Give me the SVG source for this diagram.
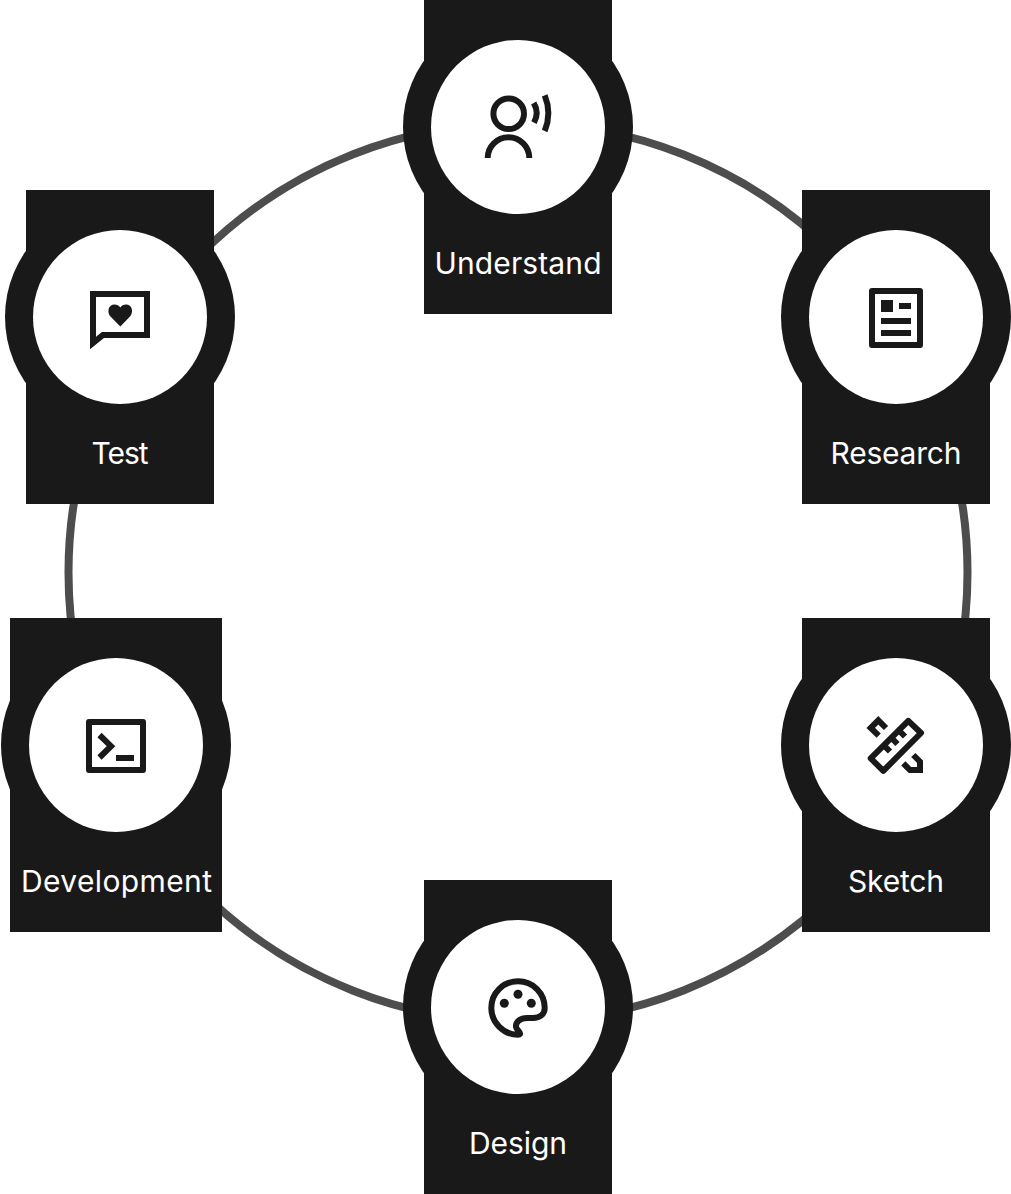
<svg xmlns="http://www.w3.org/2000/svg" width="1011" height="1194" viewBox="0 0 1011 1194">
<style>
.box{fill:#191919}
.halo{fill:#191919}
.disc{fill:#fff}
.label{fill:#fff;font-family:"Inter","Liberation Sans",sans-serif;font-size:30px;text-anchor:middle}
.line{fill:none;stroke:#191919;stroke-width:6}
.solid{fill:#191919}
</style>
<rect width="1011" height="1194" fill="#fff"/>
<g id="connectors"><circle cx="518" cy="572.500" r="449.500" fill="none" stroke="#4d4d4d" stroke-width="8"/></g>
<g id="understand">
<circle class="halo" cx="518" cy="127" r="115"/><rect class="box" x="424" y="0" width="188" height="314"/><circle class="disc" cx="518" cy="127" r="87"/>
<circle class="line" cx="508.700" cy="113.700" r="15.300"/>
<path class="line" d="M487.700 158A20.800 20.800 0 0 1 529.300 158"/>
<path class="line" d="M533.700 103Q539.500 112.500 534 122.700"/>
<path class="line" d="M544.700 95.300Q552 113 544.700 131"/>
<text class="label" x="518" y="273.500" textLength="167" lengthAdjust="spacing">Understand</text>
</g>
<g id="research">
<circle class="halo" cx="896" cy="317" r="115"/><rect class="box" x="802" y="190" width="188" height="314"/><circle class="disc" cx="896" cy="317" r="87"/>
<rect class="line" x="872" y="291" width="48" height="54" stroke-linejoin="round"/>
<rect class="solid" x="881" y="300" width="12" height="12"/><rect class="solid" x="899" y="303" width="12" height="6"/><rect class="solid" x="881" y="318" width="30" height="6"/><rect class="solid" x="881" y="330" width="30" height="6"/>
<text class="label" x="896" y="463.500" textLength="131" lengthAdjust="spacing">Research</text>
</g>
<g id="sketch">
<circle class="halo" cx="896" cy="745" r="115"/><rect class="box" x="802" y="618" width="188" height="314"/><circle class="disc" cx="896" cy="745" r="87"/>
<path class="line" stroke-linejoin="round" d="M908.300 720.800L921 733 883.300 770.800 870.700 758.300Z"/>
<path class="line" d="M884.500 746L890 751.500M892 738.500L897.500 744M899.500 731L905 736.500"/>
<path class="line" d="M886 728L878.300 720.300 870.700 728 878.700 735.700"/>
<path class="line" d="M913.300 755L920 761.700V770H910L903.300 763.300"/>
<path class="solid" d="M913 773H923V763Z"/>
<text class="label" x="896" y="891.500" textLength="96" lengthAdjust="spacing">Sketch</text>
</g>
<g id="design">
<circle class="halo" cx="518" cy="1007" r="115"/><rect class="box" x="424" y="880" width="188" height="314"/><circle class="disc" cx="518" cy="1007" r="87"/>
<path class="line" stroke-linejoin="round" d="M518 1034.700C503 1034.700 491.300 1022 491.300 1008C491.300 993 503 981.300 518 981.300C533 981.300 544.700 993 544.700 1008C544.700 1014 540 1018 533 1018H527C520 1018 515.500 1022 516 1027C516.500 1030 521 1032 520 1034C519.500 1034.700 519 1034.700 518 1034.700Z"/>
<circle class="solid" cx="504.300" cy="1003.300" r="4.500"/><circle class="solid" cx="518" cy="994.300" r="4.500"/><circle class="solid" cx="531.300" cy="1003.300" r="4.500"/>
<text class="label" x="518" y="1153.500" textLength="98" lengthAdjust="spacing">Design</text>
</g>
<g id="development">
<circle class="halo" cx="116" cy="745" r="115"/><rect class="box" x="10" y="618" width="212" height="314"/><circle class="disc" cx="116" cy="745" r="87"/>
<rect class="line" x="89" y="722" width="54" height="48" stroke-linejoin="round"/>
<path class="line" d="M99.500 735L111 746.200 99.500 757.500"/>
<rect class="solid" x="116" y="755" width="18" height="6"/>
<text class="label" x="116.500" y="891.500" textLength="191" lengthAdjust="spacing">Development</text>
</g>
<g id="test">
<circle class="halo" cx="120" cy="317" r="115"/><rect class="box" x="26" y="190" width="188" height="314"/><circle class="disc" cx="120" cy="317" r="87"/>
<path class="line" d="M93 294H147V335H103L93 343Z"/>
<path class="solid" d="M120.300 326.500L110.500 316.500C106.500 312 108.500 304.500 114.500 304.500C117 304.500 119 305.500 120.300 307.500C121.500 305.500 123.500 304.500 126 304.500C132 304.500 134 312 130 316.500Z"/>
<text class="label" x="120" y="463.500" textLength="57" lengthAdjust="spacing">Test</text>
</g>
</svg>
